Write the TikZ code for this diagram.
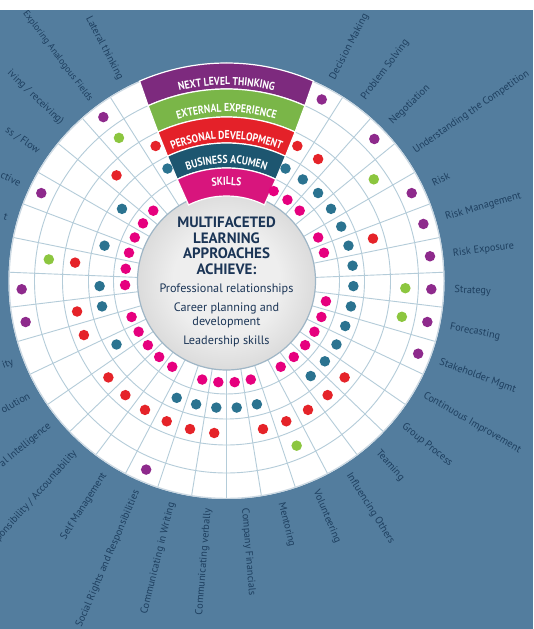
\documentclass[tikz,border=0pt]{standalone}
\usepackage{fontspec}
\setmainfont{PT Sans}
\newfontfamily\bandfont[FakeStretch=0.84]{PT Sans Bold}
\usetikzlibrary{decorations.text}

\definecolor{bgblue}{HTML}{537D9E}
\definecolor{labelnavy}{HTML}{1E3F5F}
\definecolor{gridblue}{HTML}{B4CCD9}
\definecolor{dotpink}{HTML}{E6007E}
\definecolor{dotteal}{HTML}{2B7390}
\definecolor{dotred}{HTML}{E52329}
\definecolor{dotgreen}{HTML}{8CC63F}
\definecolor{dotpurple}{HTML}{8E2A8C}
\definecolor{bandpurple}{HTML}{7D2A7E}
\definecolor{bandgreen}{HTML}{7AB648}
\definecolor{bandred}{HTML}{E42129}
\definecolor{bandteal}{HTML}{1D5670}
\definecolor{bandpink}{HTML}{D8157D}
\definecolor{hubnavy}{HTML}{1B3556}
\definecolor{hubedge}{HTML}{9FB6C6}
\definecolor{hubin}{HTML}{EEEEEE}
\definecolor{hubout}{HTML}{ADADAD}

\pgfdeclareradialshading{hubshade}{\pgfpoint{0bp}{0bp}}{color(0bp)=(hubin); color(15bp)=(hubin); color(50bp)=(hubout)}

\begin{document}
\begin{tikzpicture}[x=1pt,y=1pt,
  gridline/.style={draw=gridblue,line width=0.9pt},
  dot/.style={circle,inner sep=0pt,minimum size=10.5pt},
  skill/.style={font=\fontsize{10.3}{12}\selectfont,text=labelnavy,inner sep=0pt},
  skillR/.style={skill,anchor=west},
  skillL/.style={skill,anchor=east},
  band/.style={draw=white,line width=1.2pt},
  bandtext/.style={decorate,decoration={text along path,text align=center,text color=white,text={|\bandfont\fontsize{11.5}{12}\selectfont|#1}}},
  hubtitle/.style={align=center,text=hubnavy,font=\bfseries\fontsize{15}{15.5}\selectfont},
  hublist/.style={align=center,text=hubnavy,font=\fontsize{12.2}{14}\selectfont}]
\def\R{218}
\def\rhub{89}
\def\rlab{228}
\def\dphi{9.2308}

\useasboundingbox (0,0) rectangle (533,629);
\clip (0,0) rectangle (533,629);
\fill[bgblue] (0,0) rectangle (533,619);

\begin{scope}[shift={(226.5,348)}]
\fill[white] (0,0) circle (\R);
\draw[white!70!bgblue,line width=1.2pt] (0,0) circle (\R-0.6);

% grid
\foreach \r in {113,138,164,192} \draw[gridline] (0,0) circle (\r);
\foreach \j in {0,...,34} \draw[gridline] ({66.923-\dphi*\j}:\rhub) -- ({66.923-\dphi*\j}:\R-1.2);

\node[circle,minimum size=178pt,inner sep=0pt,shading=hubshade,draw=hubedge,line width=1.2pt] (hub) at (0,0) {};

% bands
\path[band,fill=bandpurple] (66.5:218) arc[start angle=66.5,end angle=113.5,radius=218] -- (114.09:192) arc[start angle=114.09,end angle=65.91,radius=192] -- cycle;
\path[band,fill=bandgreen] (65.91:192) arc[start angle=65.91,end angle=114.09,radius=192] -- (114.72:164) arc[start angle=114.72,end angle=65.28,radius=164] -- cycle;
\path[band,fill=bandred] (65.28:164) arc[start angle=65.28,end angle=114.72,radius=164] -- (115.30:138) arc[start angle=115.30,end angle=64.70,radius=138] -- cycle;
\path[band,fill=bandteal] (64.70:138) arc[start angle=64.70,end angle=115.30,radius=138] -- (115.87:113) arc[start angle=115.87,end angle=64.13,radius=113] -- cycle;
\path[band,fill=bandpink] (64.13:113) arc[start angle=64.13,end angle=115.87,radius=113] -- (116.5:85) arc[start angle=116.5,end angle=63.5,radius=85] -- cycle;

\path[bandtext=NEXT LEVEL THINKING] (118:196) arc[start angle=118,end angle=62,radius=196];
\path[bandtext=EXTERNAL EXPERIENCE] (118:169) arc[start angle=118,end angle=62,radius=169];
\path[bandtext=PERSONAL DEVELOPMENT] (120:142) arc[start angle=120,end angle=60,radius=142];
\path[bandtext=BUSINESS ACUMEN] (125:117.5) arc[start angle=125,end angle=55,radius=117.5];
\path[bandtext=SKILLS] (130:96) arc[start angle=130,end angle=50,radius=96];

% dots, one ring at a time
\foreach \k in {0,1,2,4,5,8,9,10,11,12,13,15,16,17,18,20,21,22,23,24,26,27,28,29,30,31}
  \node[dot,fill=dotpink] (pink\k) at ({62.31-\dphi*\k}:101.5) {};
\foreach \k in {0,1,2,3,4,5,6,7,8,9,10,11,12,15,16,17,18,19,23,25,26,28,30,33}
  \node[dot,fill=dotteal] (teal\k) at ({62.31-\dphi*\k}:127) {};
\foreach \k in {0,1,5,11,12,13,14,15,17,18,19,20,21,22,24,25,27,31,33}
  \node[dot,fill=dotred] (red\k) at ({62.31-\dphi*\k}:152.5) {};
\foreach \k in {3,7,8,14,27,32}
  \node[dot,fill=dotgreen] (green\k) at ({62.31-\dphi*\k}:179) {};
\foreach \k in {0,2,4,5,6,7,8,9,19,25,26,29,32}
  \node[dot,fill=dotpurple] (purple\k) at ({62.31-\dphi*\k}:205) {};

% labels round the wheel
\node[skillR,rotate=62.31] (decision) at (62.31:\rlab) {Decision Making};
\node[skillR,rotate=53.08] (problem) at (53.08:\rlab) {Problem Solving};
\node[skillR,rotate=43.85] (negotiation) at (43.85:\rlab) {Negotiation};
\node[skillR,rotate=34.62] (competition) at (34.62:\rlab) {Understanding the Competition};
\node[skillR,rotate=25.39] (risk) at (25.39:\rlab) {Risk};
\node[skillR,rotate=16.15] (riskmgmt) at (16.15:\rlab) {Risk Management};
\node[skillR,rotate=6.92] (riskexp) at (6.92:\rlab) {Risk Exposure};
\node[skillR,rotate=-2.31] (strategy) at (-2.31:\rlab) {Strategy};
\node[skillR,rotate=-11.54] (forecast) at (-11.54:\rlab) {Forecasting};
\node[skillR,rotate=-20.77] (stakeholder) at (-20.77:\rlab) {Stakeholder Mgmt};
\node[skillR,rotate=-30] (improve) at (-30:\rlab) {Continuous Improvement};
\node[skillR,rotate=-39.23] (group) at (-39.23:\rlab) {Group Process};
\node[skillR,rotate=-48.46] (teaming) at (-48.46:\rlab) {Teaming};
\node[skillR,rotate=-57.69] (influence) at (-57.69:\rlab) {Influencing Others};
\node[skillR,rotate=-66.92] (volunteer) at (-66.92:\rlab) {Volunteering};
\node[skillR,rotate=-76.15] (mentor) at (-76.15:\rlab) {Mentoring};
\node[skillR,rotate=-85.39] (financials) at (-85.39:\rlab) {Company Financials};
\node[skillL,rotate=85.38] (verbal) at (265.38:\rlab) {Communicating verbally};
\node[skillL,rotate=76.15] (writing) at (256.15:\rlab) {Communicating in Writing};
\node[skillL,rotate=66.92] (rights) at (246.92:\rlab) {Social Rights and Responsibilities};
\node[skillL,rotate=57.69] (selfmgmt) at (237.69:\rlab) {Self Management};
\node[skillL,rotate=48.46] (account) at (228.46:\rlab) {ponsibility / Accountability};
\node[skillL,rotate=39.23] (intelligence) at (219.23:\rlab) {al Intelligence};
\node[skillL,rotate=30] (resolution) at (210:\rlab) {olution};
\node[skillL,rotate=20.77] (ity) at (200.77:\rlab) {ity};
\node[skillL,rotate=-16.15] (tail) at (163.85:\rlab) {t};
\node[skillL,rotate=-25.39] (ctive) at (154.61:\rlab) {ctive};
\node[skillL,rotate=-34.62] (flow) at (145.38:\rlab) {ss / Flow};
\node[skillL,rotate=-43.85] (receiving) at (136.15:\rlab) {iving / receiving)};
\node[skillL,rotate=-53.08,font=\fontsize{9.4}{11}\selectfont] (analogous) at (126.92:\rlab-2) {Exploring Analogous Fields};
\node[skillL,rotate=-62.31] (lateral) at (117.69:\rlab) {Lateral thinking};

% centre text
\node[hubtitle] (title) at (0,35) {MULTIFACETED\\LEARNING\\APPROACHES\\ACHIEVE:};
\node[hublist] (achieve) at (0,-34) {Professional relationships\\[5pt]Career planning and\\development\\[5pt]Leadership skills};
\end{scope}

\fill[white] (0,619) rectangle (533,629);
\end{tikzpicture}
\end{document}
